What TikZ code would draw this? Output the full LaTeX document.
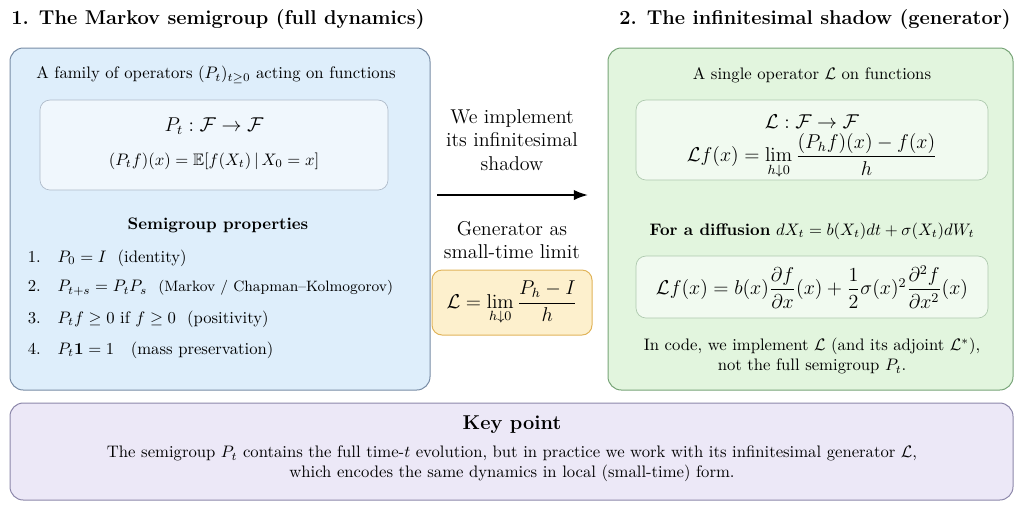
\documentclass[tikz,border=0pt]{standalone}
\usepackage{amsmath,amssymb}
\usepackage{tikz}
\usetikzlibrary{positioning,arrows.meta}
\definecolor{panelblue}{RGB}{222,238,251}
\definecolor{edgeblue}{RGB}{120,140,165}
\definecolor{panelgreen}{RGB}{226,245,222}
\definecolor{edgegreen}{RGB}{120,165,120}
\definecolor{panelpurple}{RGB}{236,232,247}
\definecolor{edgepurple}{RGB}{140,135,170}
\definecolor{panelyellow}{RGB}{253,240,205}
\definecolor{edgeyellow}{RGB}{225,180,90}
\tikzstyle{panel}=[%
      draw, rounded corners=8pt, line width=0.6pt
]
\tikzstyle{inner}=[%
      draw, rounded corners=6pt, line width=0.4pt, fill=white, fill opacity=0.55, draw opacity=1
]
\tikzstyle{title}=[font=\bfseries\large, anchor=center]
\tikzstyle{txt}=[font=\normalsize, anchor=center, align=center]
\tikzstyle{item}=[font=\normalsize, anchor=west]
\begin{document}
\begin{tikzpicture}[x=0.6pt,y=-0.6pt]
    \useasboundingbox (0,0) rectangle (1024,512);
    % panels
    \draw[panel, fill=panelblue, draw=edgeblue]     (10,48)  rectangle (430,390);
    \draw[panel, fill=panelgreen, draw=edgegreen]   (608,48) rectangle (1013,390);
    \draw[panel, fill=panelpurple, draw=edgepurple] (10,403) rectangle (1013,500);
    \draw[inner, draw=edgeblue!60]  (40,100)  rectangle (388,190);
    \draw[inner, draw=edgegreen!60] (636,100) rectangle (988,180);
    \draw[inner, draw=edgegreen!60] (636,256) rectangle (988,318);
    \draw[panel, rounded corners=6pt, fill=panelyellow, draw=edgeyellow] (432,270) rectangle (592,335);

    % titles
    \node[title] (tl) at (218,20) {1. The Markov semigroup (full dynamics)};
    \node[title] (tr) at (815,20) {2. The infinitesimal shadow (generator)};

    % left panel
    \node[txt] (fam) at (216,75) {A family of operators $(P_t)_{t\ge0}$ acting on functions};
    \node[txt, font=\large] (map) at (214,126) {$P_t:\mathcal{F}\to\mathcal{F}$};
    \node[txt] (def) at (214,161) {$(P_tf)(x)=\mathbb{E}[f(X_t)\,|\,X_0=x]$};
    \node[txt, font=\normalsize\bfseries] (prop) at (218,225) {Semigroup properties};
    \node[item] (n1) at (22,258) {1.\quad$P_0=I$\ \ (identity)};
    \node[item] (n2) at (22,288) {2.\quad$P_{t+s}=P_tP_s$\ \ {\small(Markov / Chapman--Kolmogorov)}};
    \node[item] (n3) at (22,319) {3.\quad$P_tf\ge0$ if $f\ge0$\ \ (positivity)};
    \node[item] (n4) at (22,350) {4.\quad$P_t\mathbf{1}=1$\ \ \ (mass preservation)};

    % middle
    \node[txt, font=\large] (impl) at (512,140) {We implement\\its infinitesimal\\shadow};
    \coordinate (from) at (437,195);
    \coordinate (to) at (588,195);
    \draw[-{Latex[length=3mm,width=2.2mm]}, line width=1.2pt] (from) -- (to);
    \node[txt, font=\large] (gen) at (512,240) {Generator as\\small-time limit};
    \node[txt, font=\large] (lim) at (512,303) {$\mathcal{L}=\lim\limits_{h\downarrow0}\dfrac{P_h-I}{h}$};

    % right panel
    \node[txt] (single) at (812,75) {A single operator $\mathcal{L}$ on functions};
    \node[txt, font=\large] (lmap) at (812,122) {$\mathcal{L}:\mathcal{F}\to\mathcal{F}$};
    \node[txt, font=\large] (ldef) at (812,156) {$\mathcal{L}f(x)=\lim\limits_{h\downarrow0}\dfrac{(P_hf)(x)-f(x)}{h}$};
    \node[txt] (diff) at (812,231) {\textbf{For a diffusion} $dX_t=b(X_t)dt+\sigma(X_t)dW_t$};
    \node[txt, font=\large] (gform) at (812,287) {$\mathcal{L}f(x)=b(x)\dfrac{\partial f}{\partial x}(x)+\dfrac12\sigma(x)^2\dfrac{\partial^2 f}{\partial x^2}(x)$};
    \node[txt] (code) at (812,356) {In code, we implement $\mathcal{L}$ (and its adjoint $\mathcal{L}^*$),\\not the full semigroup $P_t$.};

    % bottom
    \node[txt, font=\large\bfseries] (key) at (512,425) {Key point};
    \node[txt] (sum) at (512,464) {The semigroup $P_t$ contains the full time-$t$ evolution, but in practice we work with its infinitesimal generator $\mathcal{L}$,\\which encodes the same dynamics in local (small-time) form.};
\end{tikzpicture}
\end{document}
